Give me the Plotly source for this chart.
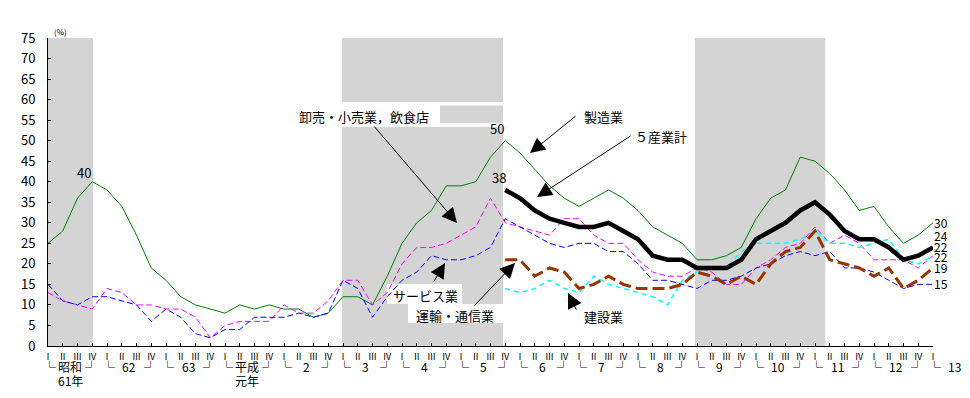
import plotly.graph_objects as go

# ---------------- data ----------------
quarters = ["Ⅰ", "Ⅱ", "Ⅲ", "Ⅳ"] * 15 + ["Ⅰ"]
year_labels = ["昭和", "62", "63", "平成", "2", "3", "4", "5", "6", "7", "8", "9", "10", "11", "12"]
year_sublabels = ["61年", "", "", "元年"] + [""] * 11
last_year_label = "13"

manufacturing = [25, 28, 36, 40, 38, 34, 27, 19, 16, 12,
                 10, 9, 8, 10, 9, 10, 9, 9, 7, 8,
                 12, 12, 10, 17, 25, 30, 33, 39, 39, 40,
                 46, 50, 47, 43, 39, 36, 34, 36, 38, 36,
                 33, 29, 27, 25, 21, 21, 22, 24, 31, 36,
                 38, 46, 45, 42, 38, 33, 34, 29, 25, 27, 30]
wholesale = [13, 11, 10, 9, 14, 13, 10, 10, 9, 9,
             7, 2, 5, 6, 6, 6, 10, 8, 8, 11,
             16, 16, 10, 13, 20, 24, 24, 25, 27, 29,
             36, 30, 29, 28, 27, 31, 31, 27, 25, 25,
             21, 18, 17, 17, 19, 18, 15, 15, 19, 21,
             24, 25, 29, 25, 27, 25, 21, 21, 21, 19, 22]
services = [15, 11, 10, 12, 12, 11, 10, 6, 9, 7,
            3, 2, 4, 4, 7, 7, 7, 8, 7, 8,
            16, 14, 7, 12, 16, 18, 22, 21, 21, 22,
            24, 31, 29, 27, 25, 24, 25, 25, 23, 23,
            20, 16, 16, 15, 14, 16, 16, 17, 19, 20,
            22, 23, 22, 23, 19, 19, 18, 16, 14, 15, 15]
# series that start at 平成5年 IV (index 31)
late_start = 31
total5 = [38, 36, 33, 31, 30, 29, 29, 30, 28, 26,
          22, 21, 21, 19, 19, 19, 21, 26, 28, 30,
          33, 35, 32, 28, 26, 26, 24, 21, 22, 24]
construction = [21, 21, 17, 19, 18, 14, 15, 17, 15, 14,
                14, 14, 15, 18, 17, 15, 17, 15, 20, 23,
                24, 28, 21, 20, 19, 17, 19, 14, 16, 19]
transport = [14, 13, 14, 16, 14, 13, 17, 15, 14, 13,
             12, 10, 16, 18, 19, 19, 23, 25, 25, 25,
             26, 28, 25, 25, 24, 25, 26, 21, 20, 22]
end_labels = ["30", "24", "22", "22", "19", "15"]
peak_labels = ["40", "50", "38"]
# recession (shaded) periods in quarter index units
recessions = [(0, 3.05), (19.93, 30.85), (43.86, 52.7)]

# ---------------- geometry helpers ----------------
L, T, W, H = 48, 38, 885, 308
NQ = len(quarters) - 1
YMAX = 75


def dx(px):
    return (px - L) / W * NQ


def dy(py):
    return (T + H - py) / H * YMAX


def px_(px):
    return (px - L) / W


def py_(py):
    return (T + H - py) / H


FONT = "Noto Sans CJK JP"
xs = list(range(len(quarters)))
xs_late = xs[late_start:]

fig = go.Figure()
fig.add_trace(go.Scatter(x=xs, y=manufacturing, mode="lines", name="製造業",
                         line=dict(color="#008000", width=1)))
fig.add_trace(go.Scatter(x=xs, y=wholesale, mode="lines", name="卸売・小売業，飲食店",
                         line=dict(color="#FF00FF", width=1, dash="6px,3px")))
fig.add_trace(go.Scatter(x=xs, y=services, mode="lines", name="サービス業",
                         line=dict(color="#0000FF", width=1, dash="6px,3px")))
fig.add_trace(go.Scatter(x=xs_late, y=transport, mode="lines", name="運輸・通信業",
                         line=dict(color="#00FFFF", width=1.5, dash="5px,4px")))
fig.add_trace(go.Scatter(x=xs_late, y=construction, mode="lines", name="建設業",
                         line=dict(color="#993300", width=3, dash="12px,5px")))
fig.add_trace(go.Scatter(x=xs_late, y=total5, mode="lines", name="５産業計",
                         line=dict(color="#000000", width=4.5)))

shapes = []
for a, b in recessions:
    shapes.append(dict(type="rect", xref="x", yref="y", x0=a, x1=b, y0=0, y1=YMAX,
                       fillcolor="#D4D4D4", line=dict(width=0), layer="below"))
# white boxes behind labels
for (x0, x1, y0, y1) in [(342, 440, 102, 127), (440, 503, 102, 105.5), (440, 503, 123, 127),
                         (387, 462, 284, 304), (408, 503, 304, 323)]:
    shapes.append(dict(type="rect", xref="x", yref="y", x0=dx(x0), x1=dx(x1), y0=dy(y1), y1=dy(y0),
                       fillcolor="white", line=dict(width=0), layer="below"))

ann = []


def text(px, py, s, size=13, xanchor="left", yanchor="middle"):
    ann.append(dict(x=px_(px), y=py_(py), xref="paper", yref="paper", text=s, showarrow=False,
                    xanchor=xanchor, yanchor=yanchor, font=dict(size=size, color="black", family=FONT)))


def arrow(tx, ty, hx, hy):
    ann.append(dict(x=dx(hx), y=dy(hy), ax=dx(tx), ay=dy(ty), xref="x", yref="y",
                    axref="x", ayref="y", text="", showarrow=True, arrowhead=2,
                    arrowsize=3, arrowwidth=1, arrowcolor="black", standoff=0))


# series labels
text(297, 116, "卸売・小売業，飲食店")
text(582, 117, "製造業")
text(633, 136, "５産業計")
text(391, 295, "サービス業")
text(414, 315, "運輸・通信業")
text(582, 316, "建設業")
arrow(373, 125, 457, 223)
arrow(577, 115, 530, 153)
arrow(632, 135, 537, 197)
arrow(433, 283, 445, 263)
arrow(473, 307, 515, 263)
arrow(577, 311, 568, 293)

# peak labels
text(93, 184, peak_labels[0], size=13, xanchor="right", yanchor="bottom")
text(506, 140, peak_labels[1], size=13, xanchor="right", yanchor="bottom")
text(508, 189, peak_labels[2], size=13, xanchor="right", yanchor="bottom")

# end labels
for lab, py in zip(end_labels, [222.7, 235.7, 246, 256, 267.7, 283.3]):
    text(932, py, lab, size=12)

# unit
text(52, 31, "(%)", size=8)

# year labels under axis
ROW1 = 366
ROW2 = 380


def qlabel(q, py, s, size):
    ann.append(dict(x=q / NQ, y=py_(py), xref="paper", yref="paper", text=s, showarrow=False,
                    xanchor="center", yanchor="middle", font=dict(size=size, family=FONT, color="black")))


for k, lab in enumerate(year_labels):
    q1 = 4 * k
    q4 = 4 * k + 3
    qlabel(q1 + 0.1, ROW1, "└", 13)
    qlabel(q4 - 0.05, ROW1, "┘", 13)
    qlabel(q1 + 1.5, ROW1, lab, 12)
    if year_sublabels[k]:
        qlabel(q1 + 1.5, ROW2, year_sublabels[k], 12)
qlabel(NQ + 0.1, ROW1, "└", 13)
qlabel(dx(955), ROW1, last_year_label, 12)

fig.update_layout(
    width=970, height=398,
    margin=dict(l=L, r=970 - L - W, t=T, b=398 - T - H, pad=0, autoexpand=False),
    paper_bgcolor="white", plot_bgcolor="white",
    showlegend=False,
    font=dict(family=FONT, color="black"),
    shapes=shapes, annotations=ann,
    xaxis=dict(range=[0, NQ], tickvals=xs, ticktext=quarters, showgrid=False, zeroline=False,
               showline=True, linecolor="black", linewidth=1, ticks="inside", ticklen=3,
               tickcolor="black", tickfont=dict(size=9, family=FONT, color="black"),
               ticklabelstandoff=2, automargin=False, fixedrange=True),
    yaxis=dict(range=[0, YMAX], dtick=5, showgrid=False, zeroline=False,
               showline=True, linecolor="black", linewidth=1, ticks="inside", ticklen=3,
               tickcolor="black", tickfont=dict(size=13, family=FONT, color="black"),
               ticklabelstandoff=9, automargin=False, fixedrange=True),
)
fig.write_html("out.html", config={"displayModeBar": False},
               post_script="document.body.style.margin='0';")
